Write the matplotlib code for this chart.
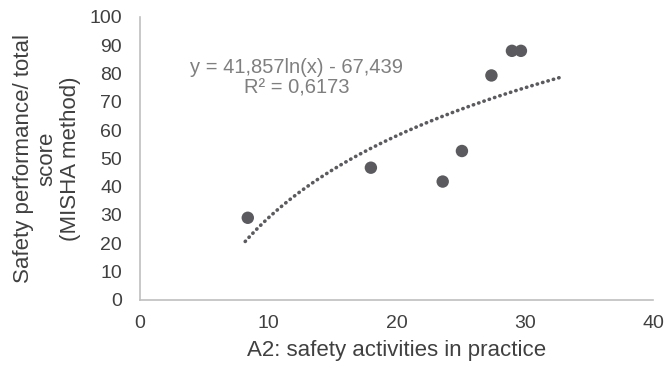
import numpy as np
import matplotlib.pyplot as plt

plt.rcParams['font.family'] = ['Liberation Sans', 'DejaVu Sans']

# safety activities (A2) vs MISHA total score
a2_score = [8.4, 18.0, 23.6, 25.1, 27.4, 29.0, 29.7]
misha_score = [29.0, 46.7, 41.8, 52.6, 79.3, 88.0, 88.0]

# log trendline as printed on the chart
coef_a = 41.857
coef_b = -67.439
r_squared = "0,6173"
trend_from = 8.2
trend_to = 33.0

x_ticks = [0, 10, 20, 30, 40]
y_ticks = [0, 10, 20, 30, 40, 50, 60, 70, 80, 90, 100]

fig = plt.figure(figsize=(6.67, 3.67), dpi=100)
ax = fig.add_axes([0.21, 0.183, 0.769, 0.771])

tx = np.linspace(trend_from, trend_to, 300)
ax.plot(tx, coef_a * np.log(tx) + coef_b, linestyle=(0, (0.1, 1.45)),
        dash_capstyle='round', color='#5b5b5f', linewidth=2.6)
ax.scatter(a2_score, misha_score, s=80, color='#5b5b5f', zorder=3,
           edgecolors='none')

ax.text(12.2, 78.5, "y = 41,857ln(x) - 67,439\nR² = " + r_squared,
        ha='center', va='center', fontsize=14.5, color='#7f7f7f',
        linespacing=1.1)

ax.set_xlim(0, 40)
ax.set_ylim(0, 100)
ax.set_xticks(x_ticks)
ax.set_yticks(y_ticks)
ax.tick_params(length=0, labelsize=14, colors='#404040')
ax.tick_params(axis='y', pad=13)
ax.tick_params(axis='x', pad=11)
for s in ['top', 'right']:
    ax.spines[s].set_visible(False)
for s in ['left', 'bottom']:
    ax.spines[s].set_color('#bfbfbf')
    ax.spines[s].set_linewidth(1.2)

ax.set_xlabel("A2: safety activities in practice", fontsize=16,
              color='#404040', labelpad=6)
ax.set_ylabel("Safety performance/ total\nscore\n(MISHA method)",
              fontsize=16, color='#404040', labelpad=6, linespacing=1.15)

fig.savefig('out.png', dpi=100)
